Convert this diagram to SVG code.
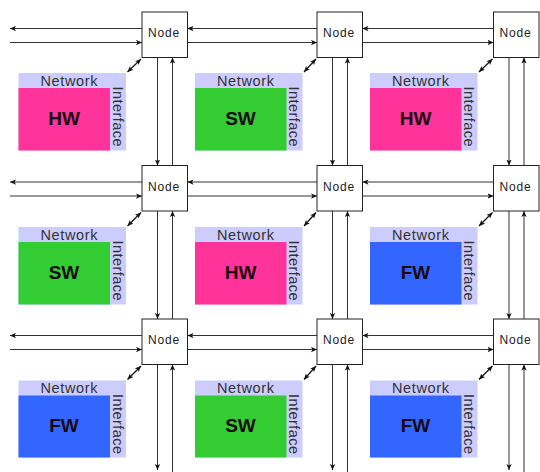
<svg xmlns="http://www.w3.org/2000/svg" width="540" height="472" viewBox="0 0 540 472">
  <style>
    .node rect { fill: #ffffff; stroke: #222222; stroke-width: 1; }
    .node text { font-family: "Liberation Sans", Arial, sans-serif; font-size: 12px; letter-spacing: 0.8px; fill: #222222; text-anchor: middle; }
    .ni { fill: #ccccff; }
    .hw { fill: #ff3399; }
    .sw { fill: #33cc33; }
    .fw { fill: #3366ff; }
    .net { font-family: "Liberation Sans", Arial, sans-serif; font-size: 14.5px; fill: #333333; text-anchor: middle; }
    .ifc { font-family: "Liberation Sans", Arial, sans-serif; font-size: 14.5px; fill: #333333; text-anchor: middle; }
    .lbl { font-family: "Liberation Sans", Arial, sans-serif; font-size: 19px; font-weight: bold; fill: #1a0a10; text-anchor: middle; }
    .link { fill: none; stroke: #333333; stroke-width: 1; marker-end: url(#ah); }
    .dbl { fill: none; stroke: #111111; stroke-width: 1.2; marker-start: url(#ah); marker-end: url(#ah); }
  </style>
  <defs>
    <marker id="ah" viewBox="0 0 8 8" refX="8" refY="4" markerWidth="6" markerHeight="6" orient="auto-start-reverse" markerUnits="userSpaceOnUse">
      <path d="M0,0.5 L8,4 L0,7.5 L2,4 z" fill="#111111"/>
    </marker>
  </defs>

  <!-- connectors: link pairs between routers, and router-to-interface links -->
  <g id="connectors">
    <!-- row 1 horizontal -->
    <path class="link" d="M142,28.5 H10"/>
    <path class="link" d="M10,42.5 H142"/>
    <path class="link" d="M317,28.5 H187.5"/>
    <path class="link" d="M187.5,42.5 H317"/>
    <path class="link" d="M493.5,28.5 H362.5"/>
    <path class="link" d="M362.5,42.5 H493.5"/>
    <!-- row 2 horizontal -->
    <path class="link" d="M142,182 H10"/>
    <path class="link" d="M10,196 H142"/>
    <path class="link" d="M317,182 H187.5"/>
    <path class="link" d="M187.5,196 H317"/>
    <path class="link" d="M493.5,182 H362.5"/>
    <path class="link" d="M362.5,196 H493.5"/>
    <!-- row 3 horizontal -->
    <path class="link" d="M142,335.5 H10"/>
    <path class="link" d="M10,349.5 H142"/>
    <path class="link" d="M317,335.5 H187.5"/>
    <path class="link" d="M187.5,349.5 H317"/>
    <path class="link" d="M493.5,335.5 H362.5"/>
    <path class="link" d="M362.5,349.5 H493.5"/>
    <!-- column 1 vertical -->
    <path class="link" d="M157.5,57.5 V165.5"/>
    <path class="link" d="M172.5,165.5 V57.5"/>
    <path class="link" d="M157.5,211 V319"/>
    <path class="link" d="M172.5,319 V211"/>
    <path class="link" d="M157.5,364.5 V470"/>
    <path class="link" d="M172.5,472 V364.5"/>
    <!-- column 2 vertical -->
    <path class="link" d="M332.5,57.5 V165.5"/>
    <path class="link" d="M347.5,165.5 V57.5"/>
    <path class="link" d="M332.5,211 V319"/>
    <path class="link" d="M347.5,319 V211"/>
    <path class="link" d="M332.5,364.5 V470"/>
    <path class="link" d="M347.5,472 V364.5"/>
    <!-- column 3 vertical -->
    <path class="link" d="M509,57.5 V165.5"/>
    <path class="link" d="M524,165.5 V57.5"/>
    <path class="link" d="M509,211 V319"/>
    <path class="link" d="M524,319 V211"/>
    <path class="link" d="M509,364.5 V470"/>
    <path class="link" d="M524,472 V364.5"/>
    <!-- router to network interface -->
    <path class="dbl" d="M141,59 L127.5,72"/>
    <path class="dbl" d="M316,59 L304,72"/>
    <path class="dbl" d="M492.5,59 L479,72"/>
    <path class="dbl" d="M141,212.5 L127.5,226"/>
    <path class="dbl" d="M316,212.5 L304,226"/>
    <path class="dbl" d="M492.5,212.5 L479,226"/>
    <path class="dbl" d="M141,366 L127.5,379.5"/>
    <path class="dbl" d="M316,366 L304,379.5"/>
    <path class="dbl" d="M492.5,366 L479,379.5"/>
  </g>

  <!-- routers -->
  <g id="node-r1c1" class="node"><rect x="142" y="12" width="45.5" height="45.5"/><text x="164" y="37">Node</text></g>
  <g id="node-r1c2" class="node"><rect x="317" y="12" width="45.5" height="45.5"/><text x="339" y="37">Node</text></g>
  <g id="node-r1c3" class="node"><rect x="493.5" y="12" width="45.5" height="45.5"/><text x="515.5" y="37">Node</text></g>
  <g id="node-r2c1" class="node"><rect x="142" y="165.5" width="45.5" height="45.5"/><text x="164" y="190.5">Node</text></g>
  <g id="node-r2c2" class="node"><rect x="317" y="165.5" width="45.5" height="45.5"/><text x="339" y="190.5">Node</text></g>
  <g id="node-r2c3" class="node"><rect x="493.5" y="165.5" width="45.5" height="45.5"/><text x="515.5" y="190.5">Node</text></g>
  <g id="node-r3c1" class="node"><rect x="142" y="319" width="45.5" height="45.5"/><text x="164" y="344">Node</text></g>
  <g id="node-r3c2" class="node"><rect x="317" y="319" width="45.5" height="45.5"/><text x="339" y="344">Node</text></g>
  <g id="node-r3c3" class="node"><rect x="493.5" y="319" width="45.5" height="45.5"/><text x="515.5" y="344">Node</text></g>

  <!-- processing elements with their network interfaces -->
  <g id="pe-r1c1">
    <rect class="ni" x="18.5" y="73" width="107.5" height="77.5"/>
    <rect class="hw" x="18.5" y="88" width="91.5" height="62.5"/>
    <text class="net" x="69" y="85.5" textLength="57">Network</text>
    <text class="ifc" transform="translate(112.5,116.5) rotate(90)" textLength="60">Interface</text>
    <text class="lbl" x="64" y="124.5">HW</text>
  </g>
  <g id="pe-r1c2">
    <rect class="ni" x="195" y="73" width="107.5" height="77.5"/>
    <rect class="sw" x="195" y="88" width="91.5" height="62.5"/>
    <text class="net" x="245.5" y="85.5" textLength="57">Network</text>
    <text class="ifc" transform="translate(289,116.5) rotate(90)" textLength="60">Interface</text>
    <text class="lbl" x="240.5" y="124.5">SW</text>
  </g>
  <g id="pe-r1c3">
    <rect class="ni" x="370" y="73" width="107.5" height="77.5"/>
    <rect class="hw" x="370" y="88" width="91.5" height="62.5"/>
    <text class="net" x="420.5" y="85.5" textLength="57">Network</text>
    <text class="ifc" transform="translate(464,116.5) rotate(90)" textLength="60">Interface</text>
    <text class="lbl" x="415.5" y="124.5">HW</text>
  </g>
  <g id="pe-r2c1">
    <rect class="ni" x="18.5" y="227" width="107.5" height="77.5"/>
    <rect class="sw" x="18.5" y="242" width="91.5" height="62.5"/>
    <text class="net" x="69" y="239.5" textLength="57">Network</text>
    <text class="ifc" transform="translate(112.5,270.5) rotate(90)" textLength="60">Interface</text>
    <text class="lbl" x="64" y="278.5">SW</text>
  </g>
  <g id="pe-r2c2">
    <rect class="ni" x="195" y="227" width="107.5" height="77.5"/>
    <rect class="hw" x="195" y="242" width="91.5" height="62.5"/>
    <text class="net" x="245.5" y="239.5" textLength="57">Network</text>
    <text class="ifc" transform="translate(289,270.5) rotate(90)" textLength="60">Interface</text>
    <text class="lbl" x="240.5" y="278.5">HW</text>
  </g>
  <g id="pe-r2c3">
    <rect class="ni" x="370" y="227" width="107.5" height="77.5"/>
    <rect class="fw" x="370" y="242" width="91.5" height="62.5"/>
    <text class="net" x="420.5" y="239.5" textLength="57">Network</text>
    <text class="ifc" transform="translate(464,270.5) rotate(90)" textLength="60">Interface</text>
    <text class="lbl" x="415.5" y="278.5">FW</text>
  </g>
  <g id="pe-r3c1">
    <rect class="ni" x="18.5" y="380.5" width="107.5" height="77"/>
    <rect class="fw" x="18.5" y="395.5" width="91.5" height="62"/>
    <text class="net" x="69" y="393" textLength="57">Network</text>
    <text class="ifc" transform="translate(112.5,424) rotate(90)" textLength="60">Interface</text>
    <text class="lbl" x="64" y="432">FW</text>
  </g>
  <g id="pe-r3c2">
    <rect class="ni" x="195" y="380.5" width="107.5" height="77"/>
    <rect class="sw" x="195" y="395.5" width="91.5" height="62"/>
    <text class="net" x="245.5" y="393" textLength="57">Network</text>
    <text class="ifc" transform="translate(289,424) rotate(90)" textLength="60">Interface</text>
    <text class="lbl" x="240.5" y="432">SW</text>
  </g>
  <g id="pe-r3c3">
    <rect class="ni" x="370" y="380.5" width="107.5" height="77"/>
    <rect class="fw" x="370" y="395.5" width="91.5" height="62"/>
    <text class="net" x="420.5" y="393" textLength="57">Network</text>
    <text class="ifc" transform="translate(464,424) rotate(90)" textLength="60">Interface</text>
    <text class="lbl" x="415.5" y="432">FW</text>
  </g>
</svg>
